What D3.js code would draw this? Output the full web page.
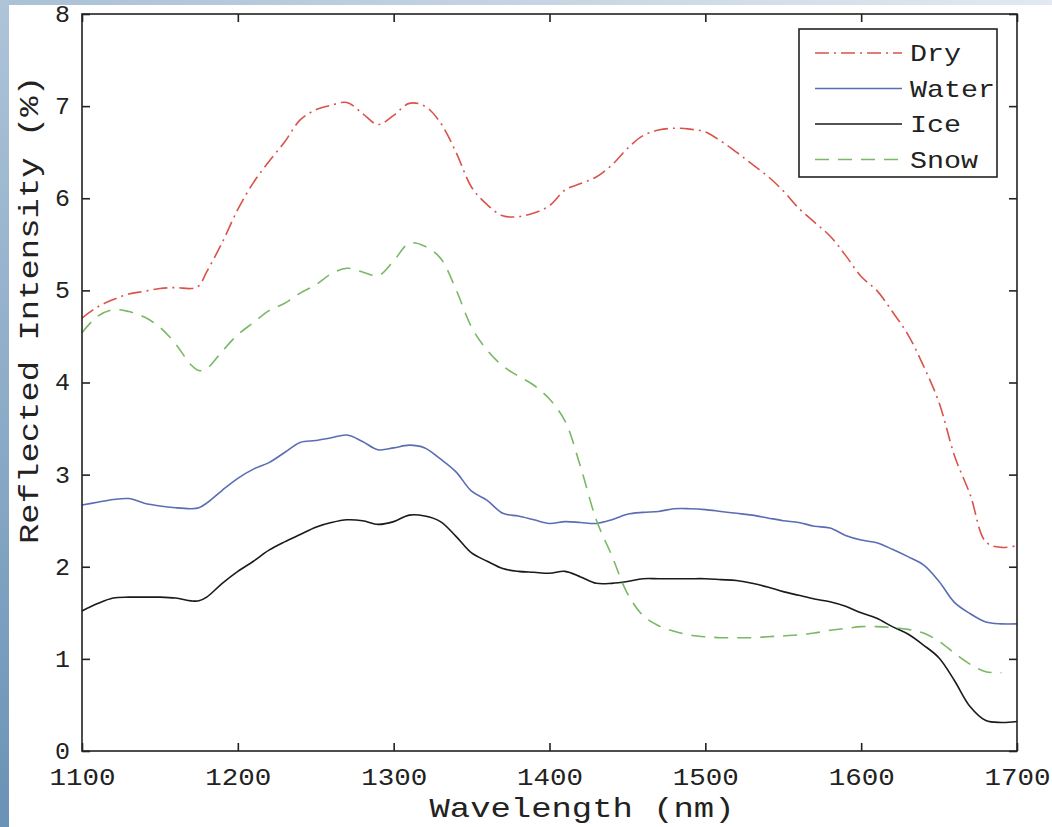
<!DOCTYPE html>
<html><head><meta charset="utf-8">
<script src="https://cdn.jsdelivr.net/npm/d3@7"></script>
<style>html,body{margin:0;padding:0;background:#fff;}svg{display:block;}</style>
</head><body>
<svg id="chart" width="1052" height="827"></svg>
<script>
const wavelength = [1100,1110,1120,1130,1140,1150,1160,1170,1175,1180,1190,1200,1210,1220,1230,1240,1250,1260,1270,1280,1290,1300,1310,1320,1330,1340,1350,1360,1370,1380,1390,1400,1410,1420,1430,1440,1450,1460,1470,1480,1490,1500,1510,1520,1530,1540,1550,1560,1570,1580,1590,1600,1610,1620,1630,1640,1650,1660,1670,1680,1690,1700];
const dry = [4.70,4.82,4.90,4.96,4.99,5.02,5.03,5.02,5.05,5.20,5.52,5.88,6.17,6.40,6.61,6.85,6.96,7.01,7.04,6.92,6.80,6.90,7.03,7.00,6.82,6.50,6.12,5.93,5.81,5.80,5.84,5.92,6.09,6.16,6.23,6.36,6.54,6.68,6.74,6.76,6.75,6.72,6.62,6.50,6.37,6.24,6.08,5.89,5.74,5.59,5.38,5.15,5.00,4.77,4.52,4.18,3.78,3.20,2.78,2.27,2.21,2.23];
const water = [2.67,2.70,2.73,2.74,2.69,2.66,2.64,2.63,2.64,2.69,2.83,2.96,3.06,3.13,3.24,3.35,3.37,3.40,3.43,3.36,3.27,3.29,3.32,3.29,3.17,3.03,2.82,2.72,2.58,2.55,2.51,2.47,2.49,2.48,2.47,2.51,2.57,2.59,2.60,2.63,2.63,2.62,2.60,2.58,2.56,2.53,2.50,2.48,2.44,2.42,2.34,2.29,2.26,2.19,2.11,2.02,1.84,1.61,1.49,1.40,1.38,1.38];
const ice = [1.52,1.60,1.66,1.67,1.67,1.67,1.66,1.63,1.63,1.67,1.82,1.95,2.06,2.18,2.27,2.35,2.43,2.48,2.51,2.50,2.46,2.49,2.56,2.55,2.49,2.33,2.15,2.06,1.98,1.95,1.94,1.93,1.95,1.89,1.82,1.82,1.84,1.87,1.87,1.87,1.87,1.87,1.86,1.85,1.82,1.78,1.73,1.69,1.65,1.62,1.57,1.50,1.44,1.35,1.27,1.15,1.01,0.76,0.48,0.33,0.31,0.32];
const snow = [4.54,4.72,4.79,4.77,4.71,4.60,4.42,4.19,4.13,4.15,4.34,4.52,4.65,4.78,4.86,4.97,5.06,5.18,5.24,5.20,5.16,5.32,5.51,5.48,5.35,5.01,4.60,4.35,4.18,4.07,3.97,3.82,3.58,3.08,2.51,2.12,1.71,1.47,1.36,1.30,1.26,1.24,1.23,1.23,1.23,1.24,1.25,1.26,1.28,1.31,1.33,1.35,1.35,1.34,1.32,1.28,1.19,1.06,0.94,0.86,0.85,null];
const seriesNames = ["Dry","Water","Ice","Snow"];
const xTicks = [1100,1200,1300,1400,1500,1600,1700];
const yTicks = [0,1,2,3,4,5,6,7,8];

const styles = {
  Dry:   {color:"#d9534a", dash:"14,5,2,5", width:1.6},
  Water: {color:"#5a6db3", dash:null, width:1.6},
  Ice:   {color:"#1a1a1a", dash:null, width:1.6},
  Snow:  {color:"#79b865", dash:"14,9", width:1.6}
};
const dataBy = {Dry:dry, Water:water, Ice:ice, Snow:snow};

const svg = d3.select("#chart");
const W = 1052, H = 827;
const defs = svg.append("defs");
const gl = defs.append("linearGradient").attr("id","lg").attr("x1",0).attr("y1",0).attr("x2",0).attr("y2",1);
gl.append("stop").attr("offset","0%").attr("stop-color","#aec4d9");
gl.append("stop").attr("offset","100%").attr("stop-color","#6a92b6");
const gt = defs.append("linearGradient").attr("id","tg").attr("x1",0).attr("y1",0).attr("x2",1).attr("y2",0);
gt.append("stop").attr("offset","0%").attr("stop-color","#a9c0d6");
gt.append("stop").attr("offset","100%").attr("stop-color","#e2e9f0");
svg.append("rect").attr("x",0).attr("y",0).attr("width",W).attr("height",H).attr("fill","url(#lg)");
svg.append("rect").attr("x",0).attr("y",0).attr("width",W).attr("height",6).attr("fill","url(#tg)");
svg.append("rect").attr("x",0).attr("y",0).attr("width",9).attr("height",H).attr("fill","url(#lg)");
svg.append("rect").attr("x",9).attr("y",5).attr("width",W-9).attr("height",H-5).attr("fill","#fff");

const L=82, R=1017, T=14, B=751;
const x = d3.scaleLinear().domain([1100,1700]).range([L,R]);
const y = d3.scaleLinear().domain([0,8]).range([B,T]);
const font = "'Liberation Mono', 'DejaVu Sans Mono', monospace";

// lines
const line = d3.line().defined(d=>d[1]!==null).x(d=>x(d[0])).y(d=>y(d[1])).curve(d3.curveCatmullRom.alpha(0.5));
const plot = svg.append("g");
["Ice","Water","Snow","Dry"].forEach(n=>{
  const st = styles[n];
  plot.append("path")
    .datum(wavelength.map((w,i)=>[w,dataBy[n][i]]))
    .attr("d",line).attr("fill","none")
    .attr("stroke",st.color).attr("stroke-width",st.width)
    .attr("stroke-dasharray",st.dash);
});

// axes with inward ticks
const axG = svg.append("g").attr("stroke","#222").attr("stroke-width",1.6).attr("fill","none");
axG.append("rect").attr("x",L).attr("y",T).attr("width",R-L).attr("height",B-T);
const tk = 8;
const bx = d3.axisBottom(x).tickValues(xTicks).tickSize(-tk).tickPadding(17).tickFormat(d3.format("d"));
const gb = svg.append("g").attr("transform",`translate(0,${B})`).call(bx);
const tx = d3.axisTop(x).tickValues(xTicks).tickSize(-tk).tickFormat("");
const gtp = svg.append("g").attr("transform",`translate(0,${T})`).call(tx);
const ly = d3.axisLeft(y).tickValues(yTicks).tickSize(-tk).tickPadding(12).tickFormat(d3.format("d"));
const gl2 = svg.append("g").attr("transform",`translate(${L},0)`).call(ly);
const ry = d3.axisRight(y).tickValues(yTicks).tickSize(-tk).tickFormat("");
const gr = svg.append("g").attr("transform",`translate(${R},0)`).call(ry);
[gb,gtp,gl2,gr].forEach(g=>{
  g.select(".domain").remove();
  g.selectAll(".tick line").attr("stroke","#222").attr("stroke-width",1.6);
  g.selectAll(".tick text").attr("fill","#222").style("font-family",font).style("font-size","23px");
});
gb.selectAll(".tick text").attr("textLength",66).attr("lengthAdjust","spacingAndGlyphs").attr("dy","0.72em");
gl2.selectAll(".tick text").attr("textLength",15).attr("lengthAdjust","spacingAndGlyphs");

// axis labels
svg.append("text").attr("x",582).attr("y",817).attr("text-anchor","middle")
  .style("font-family",font).style("font-size","28px").attr("fill","#222")
  .attr("textLength",305).attr("lengthAdjust","spacingAndGlyphs").text("Wavelength (nm)");
svg.append("text").attr("transform",`translate(38,${310}) rotate(-90)`).attr("text-anchor","middle")
  .style("font-family",font).style("font-size","28px").attr("fill","#222")
  .attr("textLength",468).attr("lengthAdjust","spacingAndGlyphs").text("Reflected Intensity (%)");

// legend
const lg = svg.append("g");
lg.append("rect").attr("x",799).attr("y",29).attr("width",198).attr("height",148)
  .attr("fill","#fff").attr("stroke","#222").attr("stroke-width",1.6);
seriesNames.forEach((n,i)=>{
  const yy = 53 + i*35.5;
  const st = styles[n];
  lg.append("line").attr("x1",815).attr("x2",902).attr("y1",yy).attr("y2",yy)
    .attr("stroke",st.color).attr("stroke-width",st.width).attr("stroke-dasharray",st.dash);
  lg.append("text").attr("x",910).attr("y",yy+8).text(n)
    .style("font-family",font).style("font-size","24px").attr("fill","#222")
    .attr("textLength",n.length*17).attr("lengthAdjust","spacingAndGlyphs");
});
</script>
</body></html>
